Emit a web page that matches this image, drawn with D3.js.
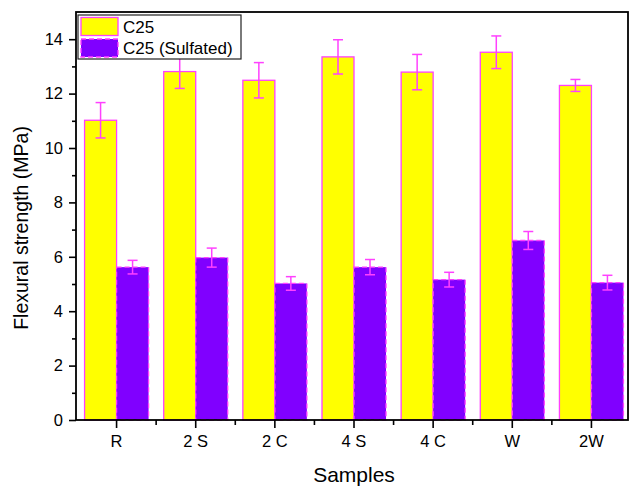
<!DOCTYPE html>
<html>
<head>
<meta charset="utf-8">
<script src="https://cdn.jsdelivr.net/npm/d3@7"></script>
<style>
  body { margin: 0; background: #fff; }
  text { font-family: Arial, "Liberation Sans", sans-serif; fill: #000; }
</style>
</head>
<body>
<script>
// data
var samples = ["R", "2 S", "2 C", "4 S", "4 C", "W", "2W"];
var c25 = [11.02, 12.81, 12.49, 13.35, 12.79, 13.52, 12.3];
var c25Err = [0.65, 0.62, 0.65, 0.63, 0.65, 0.6, 0.22];
var sulf = [5.62, 5.97, 5.02, 5.62, 5.16, 6.6, 5.05];
var sulfErr = [0.25, 0.35, 0.25, 0.28, 0.27, 0.33, 0.27];
var seriesNames = ["C25", "C25 (Sulfated)"];
var yTicks = [0, 2, 4, 6, 8, 10, 12, 14];

var width = 631, height = 489;
var mLeft = 76, mRight = 631, mTop = 12, mBottom = 420;

var svg = d3.select("body").append("svg")
    .attr("width", width)
    .attr("height", height);

var x = d3.scaleBand().domain(samples).range([mLeft + 1, mRight]);
var y = d3.scaleLinear().domain([0, 15]).range([mBottom, mTop]);

var barW = 32;
var magenta = "#ff40ff";

// bars
var groups = svg.selectAll(".grp")
    .data(samples)
  .enter().append("g")
    .attr("class", "grp");

groups.append("rect")
    .attr("x", function(d) { return x(d) + x.bandwidth() / 2 - barW; })
    .attr("y", function(d, i) { return y(c25[i]); })
    .attr("width", barW)
    .attr("height", function(d, i) { return mBottom - y(c25[i]); })
    .attr("fill", "#ffff00")
    .attr("stroke", magenta)
    .attr("stroke-width", 1.3);

groups.append("rect")
    .attr("x", function(d) { return x(d) + x.bandwidth() / 2; })
    .attr("y", function(d, i) { return y(sulf[i]); })
    .attr("width", barW)
    .attr("height", function(d, i) { return mBottom - y(sulf[i]); })
    .attr("fill", "#8000ff")
    .attr("stroke", magenta)
    .attr("stroke-width", 1.3)
    .attr("stroke-dasharray", "5,3");

// error bars
function errBars(vals, errs, off) {
  var g = svg.append("g").attr("stroke", magenta).attr("stroke-width", 1.5);
  samples.forEach(function(s, i) {
    var cx = x(s) + x.bandwidth() / 2 + off;
    g.append("line").attr("x1", cx).attr("x2", cx)
      .attr("y1", y(vals[i] + errs[i])).attr("y2", y(vals[i] - errs[i]));
    [vals[i] + errs[i], vals[i] - errs[i]].forEach(function(v) {
      g.append("line").attr("x1", cx - 5).attr("x2", cx + 5)
        .attr("y1", y(v)).attr("y2", y(v));
    });
  });
}
errBars(c25, c25Err, -barW / 2);
errBars(sulf, sulfErr, barW / 2);

// frame
svg.append("rect")
    .attr("x", mLeft).attr("y", mTop)
    .attr("width", mRight - mLeft - 3).attr("height", mBottom - mTop)
    .attr("fill", "none").attr("stroke", "#000").attr("stroke-width", 1.8);

// y axis
var yAxis = svg.append("g")
    .attr("transform", "translate(" + mLeft + ",0)")
    .call(d3.axisLeft(y).tickValues(yTicks).tickSize(7).tickPadding(6));
yAxis.select(".domain").remove();
yAxis.selectAll("line").attr("stroke-width", 1.6);
yAxis.selectAll("text").style("font-size", "16.5px").style("font-family", "Arial, 'Liberation Sans', sans-serif");
svg.append("g")
    .attr("transform", "translate(" + mLeft + ",0)")
    .call(d3.axisLeft(y).tickValues([1, 3, 5, 7, 9, 11, 13]).tickSize(4).tickFormat(""))
    .call(function(g) { g.select(".domain").remove(); g.selectAll("line").attr("stroke-width", 1.6); });

// x axis
var xAxis = svg.append("g")
    .attr("transform", "translate(0," + mBottom + ")")
    .call(d3.axisBottom(x).tickSize(8).tickPadding(7));
xAxis.select(".domain").remove();
xAxis.selectAll("line").attr("stroke-width", 1.6);
xAxis.selectAll("text").style("font-size", "16.5px").style("font-family", "Arial, 'Liberation Sans', sans-serif");
var minorX = samples.slice(1).map(function(s) { return x(s); });
svg.append("g").selectAll("line").data(minorX).enter().append("line")
    .attr("x1", function(d) { return d; }).attr("x2", function(d) { return d; })
    .attr("y1", mBottom).attr("y2", mBottom + 5)
    .attr("stroke", "#000").attr("stroke-width", 1.6);

// axis titles
svg.append("text")
    .attr("x", 354).attr("y", 482)
    .attr("text-anchor", "middle").style("font-size", "21px")
    .text("Samples");
svg.append("text")
    .attr("transform", "translate(28,228) rotate(-90)")
    .attr("text-anchor", "middle").style("font-size", "19.5px")
    .text("Flexural strength (MPa)");

// legend
var lg = svg.append("g").attr("transform", "translate(78,15)");
lg.append("rect").attr("width", 163).attr("height", 44)
    .attr("fill", "#fff").attr("stroke", "#222").attr("stroke-width", 1.2);
var fills = ["#ffff00", "#8000ff"];
seriesNames.forEach(function(n, i) {
  lg.append("rect")
    .attr("x", 3).attr("y", 2.5 + i * 21.5)
    .attr("width", 37).attr("height", 18)
    .attr("fill", fills[i]).attr("stroke", magenta).attr("stroke-width", 1.3)
    .attr("stroke-dasharray", i ? "5,3" : null);
  lg.append("text")
    .attr("x", 45).attr("y", 17.5 + i * 21)
    .style("font-size", "17px")
    .text(n);
});
</script>
</body>
</html>
